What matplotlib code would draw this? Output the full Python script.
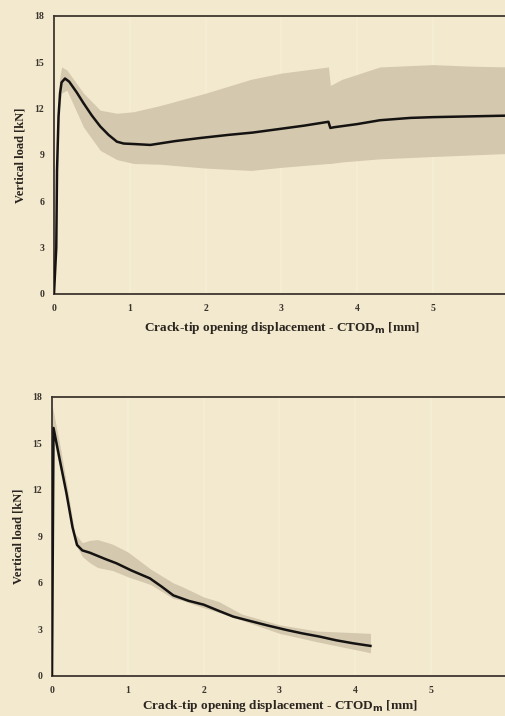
import matplotlib
matplotlib.use("Agg")
import matplotlib.pyplot as plt

# ---- data ----
# upper panel: mean curve
top_x = [0, 0.03, 0.04, 0.06, 0.08, 0.1, 0.145, 0.2, 0.3, 0.39, 0.5, 0.61, 0.72,
         0.83, 0.92, 1.05, 1.27, 1.6, 1.93, 2.3, 2.62, 3.0, 3.3, 3.62, 3.645, 3.7,
         4.0, 4.3, 4.7, 5.0, 5.5, 6.0]
top_mean = [0, 3, 8, 11.5, 13.0, 13.7, 13.95, 13.75, 13.05, 12.35, 11.55, 10.85, 10.3,
            9.86, 9.74, 9.71, 9.65, 9.9, 10.1, 10.3, 10.45, 10.7, 10.9, 11.15, 10.75,
            10.8, 11.0, 11.25, 11.4, 11.45, 11.5, 11.55]
# upper panel: scatter band
top_bx = [0.07, 0.1, 0.17, 0.39, 0.61, 0.83, 1.05, 1.4, 2.0, 2.6, 3.0, 3.62, 3.645,
          3.8, 4.3, 5.0, 5.5, 6.0]
top_hi = [13.8, 14.7, 14.5, 13.0, 11.9, 11.7, 11.8, 12.2, 13.0, 13.9, 14.3, 14.7,
          13.5, 13.9, 14.7, 14.85, 14.75, 14.7]
top_lo = [12.0, 13.0, 13.2, 10.8, 9.3, 8.7, 8.45, 8.4, 8.15, 8.0, 8.2, 8.45, 8.45,
          8.55, 8.75, 8.9, 9.0, 9.1]

# lower panel: mean curve
bot_x = [0, 0.02, 0.1, 0.19, 0.27, 0.33, 0.4, 0.5, 0.7, 0.85, 1.05, 1.29, 1.45, 1.6,
         1.8, 2.0, 2.2, 2.39, 2.65, 2.85, 3.09, 3.3, 3.53, 3.75, 3.97, 4.2]
bot_mean = [0, 16.0, 14.0, 11.8, 9.6, 8.45, 8.1, 7.95, 7.55, 7.27, 6.8, 6.3, 5.75, 5.2,
            4.85, 4.6, 4.2, 3.83, 3.5, 3.25, 2.97, 2.75, 2.54, 2.3, 2.11, 1.94]
# lower panel: scatter band
bot_bx = [0.0, 0.02, 0.1, 0.2, 0.3, 0.4, 0.5, 0.6, 0.8, 1.0, 1.3, 1.6, 1.7, 2.0, 2.2,
          2.5, 3.0, 3.5, 4.2]
bot_hi = [17.5, 17.0, 15.0, 12.2, 9.2, 8.6, 8.75, 8.8, 8.5, 8.0, 6.9, 6.0, 5.8, 5.1, 4.8,
          4.0, 3.3, 2.9, 2.75]
bot_lo = [15.5, 15.3, 13.5, 11.4, 8.6, 7.7, 7.3, 7.0, 6.8, 6.4, 5.9, 5.0, 4.9, 4.4, 4.1,
          3.6, 2.75, 2.2, 1.5]

x_ticks = [0, 1, 2, 3, 4, 5, 6]
y_ticks = [0, 3, 6, 9, 12, 15, 18]

bg = "#f3e9ce"
band_col = "#d4c9ae"
spine_col = "#3f372f"
serif = ["Liberation Serif", "DejaVu Serif"]

fig = plt.figure(figsize=(5.06, 7.16), dpi=100, facecolor=bg)
ax_top = fig.add_axes([0.1067, 0.5894, 0.899, 0.3883])
ax_bot = fig.add_axes([0.1028, 0.0559, 0.899, 0.3897])

panels = [
    (ax_top, top_x, top_mean, top_bx, top_lo, top_hi, 5),
    (ax_bot, bot_x, bot_mean, bot_bx, bot_lo, bot_hi, 2.5),
]

for ax, x, m, bx, lo, hi, xpad in panels:
    ax.set_facecolor(bg)
    for t in x_ticks[1:]:
        ax.axvline(t, color="#f5ecd4", lw=1.5, zorder=0)
    ax.fill_between(bx, lo, hi, color=band_col, lw=0, zorder=1)
    ax.plot(x, m, color="#151212", lw=1.8, zorder=3)
    ax.set_xlim(0, 6)
    ax.set_ylim(0, 18)
    ax.set_xticks(x_ticks)
    ax.set_yticks(y_ticks)
    ax.tick_params(length=0, pad=7, labelsize=7, colors="#3a332c")
    for lab in ax.get_xticklabels() + ax.get_yticklabels():
        lab.set_family(serif)
        lab.set_fontweight("bold")
    for s in ax.spines.values():
        s.set_color(spine_col)
        s.set_linewidth(1.3)
    ax.set_xlabel(r"Crack-tip opening displacement - CTOD$_\mathbf{m}$ [mm]",
                  family=serif, fontweight="bold", fontsize=9.5, color="#2b2520",
                  labelpad=xpad)
    ax.set_ylabel("Vertical load [kN]", family=serif, fontweight="bold",
                  fontsize=9, color="#2b2520", labelpad=6)

fig.savefig("out.png", dpi=100, facecolor=bg)
